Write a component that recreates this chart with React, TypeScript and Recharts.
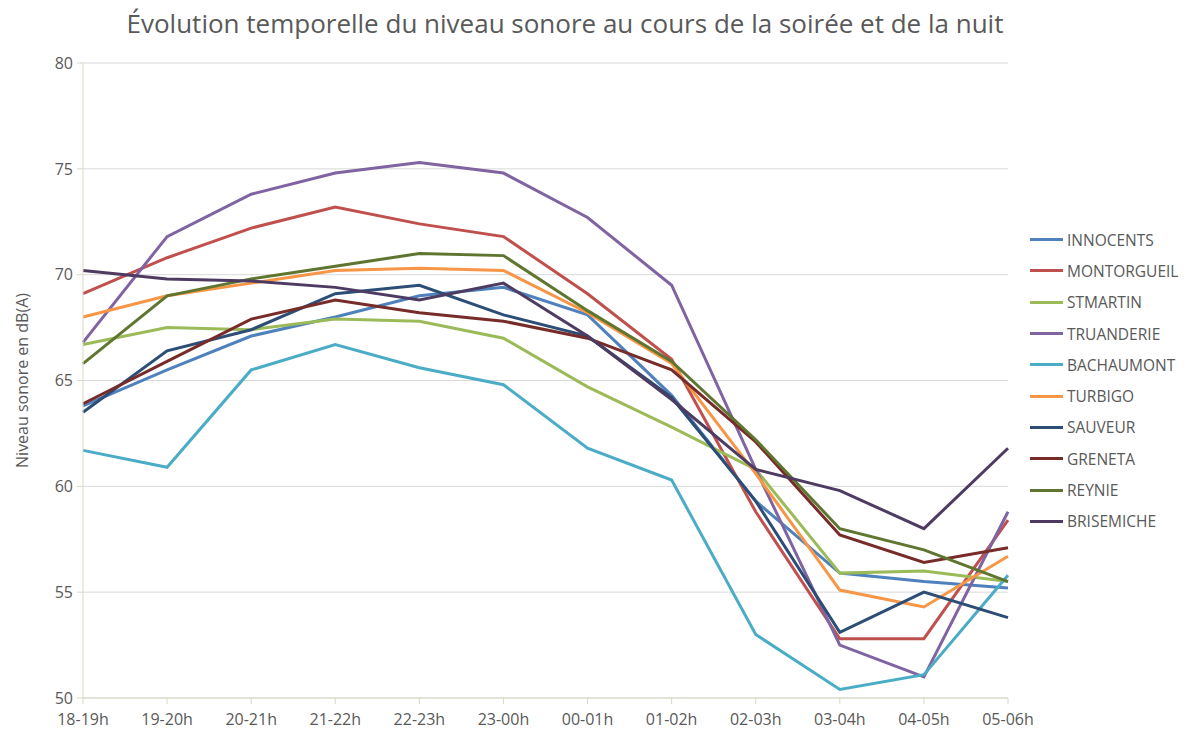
import React from "react";
import { LineChart, Line, XAxis, YAxis, CartesianGrid } from "recharts";

const categories = [
  "18-19h", "19-20h", "20-21h", "21-22h", "22-23h", "23-00h",
  "00-01h", "01-02h", "02-03h", "03-04h", "04-05h", "05-06h",
];

const innocents = [63.8, 65.5, 67.1, 68.0, 69.0, 69.4, 68.1, 64.3, 59.3, 55.9, 55.5, 55.2];
const montorgueil = [69.1, 70.8, 72.2, 73.2, 72.4, 71.8, 69.1, 66.0, 58.8, 52.8, 52.8, 58.4];
const stmartin = [66.7, 67.5, 67.4, 67.9, 67.8, 67.0, 64.7, 62.8, 60.8, 55.9, 56.0, 55.5];
const truanderie = [66.8, 71.8, 73.8, 74.8, 75.3, 74.8, 72.7, 69.5, 60.8, 52.5, 51.0, 58.8];
const bachaumont = [61.7, 60.9, 65.5, 66.7, 65.6, 64.8, 61.8, 60.3, 53.0, 50.4, 51.1, 55.8];
const turbigo = [68.0, 69.0, 69.6, 70.2, 70.3, 70.2, 68.2, 65.8, 60.6, 55.1, 54.3, 56.7];
const sauveur = [63.5, 66.4, 67.4, 69.1, 69.5, 68.1, 67.1, 64.2, 59.3, 53.1, 55.0, 53.8];
const greneta = [63.9, 65.9, 67.9, 68.8, 68.2, 67.8, 67.0, 65.5, 62.1, 57.7, 56.4, 57.1];
const reynie = [65.8, 69.0, 69.8, 70.4, 71.0, 70.9, 68.3, 65.9, 62.2, 58.0, 57.0, 55.5];
const brisemiche = [70.2, 69.8, 69.7, 69.4, 68.8, 69.6, 67.1, 64.1, 60.8, 59.8, 58.0, 61.8];

const seriesNames = [
  "INNOCENTS", "MONTORGUEIL", "STMARTIN", "TRUANDERIE", "BACHAUMONT",
  "TURBIGO", "SAUVEUR", "GRENETA", "REYNIE", "BRISEMICHE",
];
const seriesValues = [
  innocents, montorgueil, stmartin, truanderie, bachaumont,
  turbigo, sauveur, greneta, reynie, brisemiche,
];
const colors = [
  "#4F81BD", "#C0504D", "#9BBB59", "#8064A2", "#4BACC6",
  "#F79646", "#2C4D75", "#772C2A", "#5F7530", "#4D3B62",
];

const yTicks = [50, 55, 60, 65, 70, 75, 80];

const data = categories.map((c, i) => {
  const row: Record<string, string | number> = { name: c };
  seriesNames.forEach((s, k) => {
    row[s] = seriesValues[k][i];
  });
  return row;
});

const font = "'Open Sans', sans-serif";
const textColor = "#595959";
const axisColor = "#D9D9C3";

// y-axis title, rotated, sitting at the far left
function YTitle(props: any) {
  const vb = props.viewBox || {};
  const cy = (vb.y ?? 55) + (vb.height ?? 635) / 2;
  return (
    <text
      x={14}
      y={cy}
      transform={`rotate(-90, 14, ${cy})`}
      textAnchor="middle"
      dominantBaseline="central"
      fill={textColor}
      fontSize={16}
      fontFamily={font}
    >
      Niveau sonore en dB(A)
    </text>
  );
}

export default function App() {
  return (
    <div
      style={{
        position: "fixed",
        left: 0,
        top: 0,
        width: 1189,
        height: 731,
        overflow: "hidden",
        background: "#fff",
      }}
    >
      <div style={{ position: "absolute", left: 8, top: 8, width: 1173, height: 723 }}>
        <div
          style={{
            position: "absolute",
            left: 0,
            width: 1114,
            top: -3,
            textAlign: "center",
            fontFamily: font,
            fontSize: 26,
            color: textColor,
            whiteSpace: "nowrap",
          }}
        >
          Évolution temporelle du niveau sonore au cours de la soirée et de la nuit
        </div>
        <LineChart
          width={1173}
          height={723}
          data={data}
          margin={{ top: 55, right: 173, bottom: 0, left: 0 }}
        >
          <CartesianGrid vertical={false} stroke="#D9D9D9" strokeWidth={1} />
          <XAxis
            dataKey="name"
            height={33}
            stroke={axisColor}
            tickLine={{ stroke: axisColor }}
            tickSize={6}
            tickMargin={10}
            tick={{ fill: textColor, fontSize: 16, fontFamily: font }}
            interval={0}
          />
          <YAxis
            width={75}
            domain={[50, 80]}
            ticks={yTicks}
            stroke={axisColor}
            tickLine={{ stroke: axisColor }}
            tickSize={6}
            tickMargin={4}
            tick={{ fill: textColor, fontSize: 16, fontFamily: font }}
            label={<YTitle />}
          />
          {seriesNames.map((s, k) => (
            <Line
              key={s}
              type="linear"
              dataKey={s}
              stroke={colors[k]}
              strokeWidth={3}
              dot={false}
              activeDot={false}
              isAnimationActive={false}
            />
          ))}
        </LineChart>
        <div
          style={{
            position: "absolute",
            left: 1022,
            top: 216,
            fontFamily: font,
            fontSize: 15.5,
            color: textColor,
          }}
        >
          {seriesNames.map((s, k) => (
            <div key={s} style={{ display: "flex", alignItems: "center", height: 31.3 }}>
              <div style={{ width: 33, height: 3, background: colors[k], marginRight: 4 }} />
              <span>{s}</span>
            </div>
          ))}
        </div>
      </div>
    </div>
  );
}
